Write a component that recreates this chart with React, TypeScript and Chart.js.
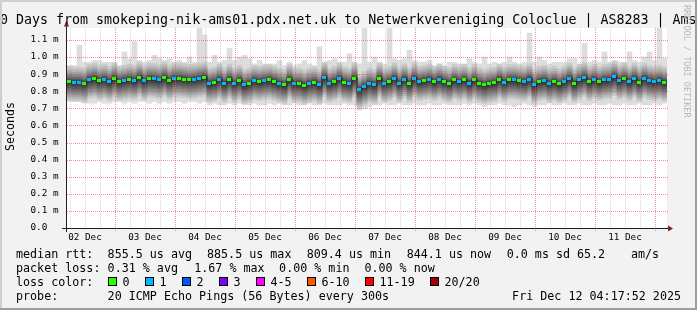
import React, { useEffect, useRef } from "react";
import { Chart, registerables } from "chart.js";

Chart.register(...registerables);

const W = 697;
const H = 310;
const MONO = "'DejaVu Sans Mono', monospace";

// ---- axis data ----
const titleText = "0 Days from smokeping-nik-ams01.pdx.net.uk to Netwerkvereniging Coloclue | AS8283 | Ams";
const dayLabels = ["02 Dec", "03 Dec", "04 Dec", "05 Dec", "06 Dec", "07 Dec", "08 Dec", "09 Dec", "10 Dec", "11 Dec"];
// hours since the graph start (Dec 2 04:48)
const firstNoonHour = 7.2;
const firstGridHour = 1.2;
const gridEveryHours = 6;
const totalHours = 240;
const stepHours = 2;
const yTickValues = [0, 0.1, 0.2, 0.3, 0.4, 0.5, 0.6, 0.7, 0.8, 0.9, 1.0, 1.1];
const yTickLabels = ["0.0  ", "0.1 m", "0.2 m", "0.3 m", "0.4 m", "0.5 m", "0.6 m", "0.7 m", "0.8 m", "0.9 m", "1.0 m", "1.1 m"];
const yMax = 1.17;

// ---- series data (ms), one value per 2 h step ----
const medianMs = [
  0.856, 0.852, 0.852, 0.846, 0.869, 0.875, 0.862, 0.869, 0.856, 0.875,
  0.856, 0.862, 0.869, 0.862, 0.881, 0.860, 0.875, 0.872, 0.866, 0.881,
  0.862, 0.875, 0.875, 0.871, 0.866, 0.869, 0.875, 0.881, 0.846, 0.852,
  0.869, 0.846, 0.869, 0.846, 0.862, 0.837, 0.846, 0.862, 0.856, 0.862,
  0.866, 0.856, 0.846, 0.837, 0.869, 0.846, 0.846, 0.834, 0.846, 0.852,
  0.837, 0.879, 0.846, 0.856, 0.875, 0.852, 0.846, 0.875, 0.809, 0.827,
  0.846, 0.837, 0.875, 0.846, 0.856, 0.875, 0.846, 0.871, 0.846, 0.875,
  0.856, 0.862, 0.869, 0.856, 0.869, 0.856, 0.846, 0.866, 0.856, 0.866,
  0.846, 0.866, 0.846, 0.837, 0.846, 0.850, 0.869, 0.852, 0.866, 0.866,
  0.860, 0.856, 0.871, 0.837, 0.856, 0.862, 0.846, 0.856, 0.843, 0.856,
  0.875, 0.846, 0.866, 0.880, 0.856, 0.869, 0.856, 0.866, 0.869, 0.885,
  0.862, 0.875, 0.856, 0.875, 0.852, 0.875, 0.862, 0.856, 0.862, 0.852,
];
const lossCount = [
  0, 1, 1, 0, 1, 0, 0, 1, 1, 0,
  0, 1, 0, 1, 0, 1, 0, 1, 1, 0,
  0, 1, 0, 0, 0, 1, 1, 0, 1, 0,
  1, 1, 0, 1, 0, 1, 0, 1, 0, 1,
  0, 0, 1, 0, 0, 1, 0, 0, 1, 0,
  1, 1, 1, 0, 1, 0, 1, 0, 1, 1,
  1, 1, 0, 1, 0, 1, 1, 1, 0, 1,
  1, 0, 1, 0, 1, 0, 0, 0, 1, 0,
  1, 0, 0, 0, 0, 0, 0, 1, 0, 1,
  0, 1, 1, 1, 0, 1, 1, 0, 0, 1,
  1, 0, 1, 1, 0, 1, 0, 1, 1, 1,
  1, 0, 1, 1, 0, 1, 1, 1, 1, 0,
];
const maxPingMs = [
  0.95, 0.95, 1.07, 0.97, 0.97, 0.98, 0.98, 0.97, 0.97, 0.97,
  0.95, 1.03, 0.99, 1.09, 0.98, 0.97, 0.98, 1.01, 0.99, 0.98,
  0.99, 0.97, 0.98, 0.97, 1.00, 0.97, 1.17, 1.13, 0.97, 1.01,
  0.97, 0.98, 1.05, 0.98, 1.00, 1.01, 0.99, 0.96, 0.98, 0.96,
  0.96, 0.96, 0.98, 0.95, 0.97, 0.95, 0.96, 0.98, 0.96, 0.95,
  1.06, 0.97, 0.98, 0.99, 0.97, 0.97, 1.02, 0.97, 0.96, 1.17,
  0.97, 1.00, 0.97, 0.96, 1.17, 0.99, 0.98, 0.99, 1.04, 0.98,
  0.97, 0.97, 0.98, 0.95, 0.96, 0.95, 0.97, 0.97, 0.96, 0.96,
  0.99, 0.97, 0.96, 1.00, 0.96, 0.97, 0.96, 0.97, 1.00, 0.97,
  0.96, 0.97, 1.14, 0.97, 1.00, 0.98, 0.96, 0.97, 0.97, 0.97,
  0.99, 0.99, 0.96, 1.08, 0.97, 0.98, 0.97, 1.03, 0.97, 0.98,
  0.97, 0.97, 1.03, 0.98, 0.97, 1.00, 1.03, 0.98, 1.17, 0.99,
];
const minPingMs = [
  0.74, 0.74, 0.74, 0.73, 0.73, 0.73, 0.74, 0.73, 0.73, 0.74,
  0.74, 0.73, 0.74, 0.73, 0.74, 0.74, 0.73, 0.74, 0.73, 0.74,
  0.73, 0.74, 0.74, 0.73, 0.74, 0.74, 0.73, 0.74, 0.72, 0.73,
  0.72, 0.72, 0.73, 0.72, 0.73, 0.72, 0.72, 0.73, 0.72, 0.72,
  0.73, 0.72, 0.73, 0.72, 0.72, 0.73, 0.72, 0.72, 0.73, 0.72,
  0.72, 0.73, 0.72, 0.72, 0.72, 0.73, 0.72, 0.72, 0.69, 0.70,
  0.71, 0.72, 0.72, 0.73, 0.72, 0.72, 0.73, 0.72, 0.72, 0.73,
  0.72, 0.72, 0.73, 0.72, 0.72, 0.73, 0.72, 0.72, 0.72, 0.73,
  0.72, 0.73, 0.72, 0.71, 0.72, 0.72, 0.73, 0.72, 0.72, 0.71,
  0.72, 0.73, 0.72, 0.71, 0.72, 0.72, 0.73, 0.72, 0.72, 0.73,
  0.72, 0.72, 0.73, 0.72, 0.72, 0.73, 0.72, 0.72, 0.73, 0.72,
  0.72, 0.73, 0.72, 0.72, 0.73, 0.72, 0.72, 0.73, 0.72, 0.73,
];
// typical sorted ping offsets (ping 2 .. ping 19 of 20) relative to the median
const pingOffsetsMs = [
  -0.110, -0.097, -0.085, -0.073, -0.061, -0.049, -0.036, -0.023, -0.010,
  0.003, 0.010, 0.018, 0.027, 0.037, 0.048, 0.060, 0.074, 0.090,
];

// ---- legend ----
const lossLabels = ["0", "1", "2", "3", "4-5", "6-10", "11-19", "20/20"];
const lossColors = ["#26ff00", "#00b8ff", "#0059ff", "#7e00ff", "#ff00ff", "#ff5500", "#ff0000", "#a10000"];
const lossUpper = [0, 1, 2, 3, 5, 10, 19, 20];
const medianRow = ["median rtt:", "855.5 us avg", "885.5 us max", "809.4 us min", "844.1 us now", "0.0 ms sd", "65.2", "am/s"];
const lossRow = ["packet loss:", "0.31 % avg", "1.67 % max", "0.00 % min", "0.00 % now"];
const probeRow = ["probe:", "20 ICMP Echo Pings (56 Bytes) every 300s"];
const dateText = "Fri Dec 12 04:17:52 2025";

const medianRowX = [16, 107.6, 207, 306.7, 406.7, 506.7, 577, 631];
const lossRowX = [16, 107.6, 194.2, 279.1, 364.4];
const lossBoxX = [108, 145, 182, 219, 256, 307, 365, 430];
const probeRowX = [16, 107.6];

function lossBin(n: number) {
  for (let i = 0; i < lossUpper.length; i++) if (n <= lossUpper[i]) return i;
  return lossUpper.length - 1;
}

const gridHours: number[] = [];
for (let h = firstGridHour; h < totalHours; h += gridEveryHours) gridHours.push(+h.toFixed(2));
const isMidnight = (h: number) => Math.abs(((h - firstNoonHour) % 24) - 12) < 0.01;
const noonIndex = (h: number) => {
  const k = Math.round((h - firstNoonHour) / 24);
  return Math.abs(h - (firstNoonHour + 24 * k)) < 0.01 ? k : -1;
};

export default function App() {
  const ref = useRef<HTMLCanvasElement>(null);

  useEffect(() => {
    const canvas = ref.current;
    if (!canvas) return;

    const dotImgs = lossColors.map((c) => {
      const cv = document.createElement("canvas");
      cv.width = 5;
      cv.height = 3;
      const g = cv.getContext("2d")!;
      g.fillStyle = c;
      g.fillRect(0, 0, 4, 3);
      return cv;
    });

    const xs = medianMs.map((_, i) => stepHours * i + stepHours / 2);
    const pings = medianMs.map((m, i) => [minPingMs[i], ...pingOffsetsMs.map((o) => m + o), maxPingMs[i]]);

    const smokeSets: any[] = [];
    for (let k = 0; k < 10; k++) {
      const g = Math.floor((190 / 10) * (10 - (k + 1))) + 50;
      smokeSets.push({
        type: "bar",
        data: xs.map((x, i) => ({ x, y: [pings[i][k], pings[i][19 - k]] })),
        backgroundColor: `rgb(${g},${g},${g})`,
        borderWidth: 0,
        barThickness: 5,
        grouped: false,
        order: 20 - k,
      });
    }

    const medianPts = xs.map((x, i) => ({ x, y: medianMs[i] }));

    const decor = {
      id: "decor",
      beforeDraw(chart: any) {
        const { ctx, chartArea: a } = chart;
        ctx.save();
        ctx.fillStyle = "#f2f2f2";
        ctx.fillRect(0, 0, W, H);
        ctx.fillStyle = "#ffffff";
        ctx.fillRect(a.left, a.top, a.right - a.left, a.bottom - a.top);
        ctx.restore();
      },
      afterDatasetsDraw(chart: any) {
        const { ctx, chartArea: a } = chart;
        const xs_ = chart.scales.x;
        const ys_ = chart.scales.y;
        ctx.save();
        ctx.lineWidth = 1;
        ctx.setLineDash([1, 1]);
        for (const h of gridHours) {
          if (isMidnight(h)) continue;
          const px = Math.round(xs_.getPixelForValue(h)) + 0.5;
          ctx.strokeStyle = "rgba(143,143,143,0.38)";
          ctx.beginPath();
          ctx.moveTo(px, a.top);
          ctx.lineTo(px, a.bottom);
          ctx.stroke();
        }
        const red = "rgba(222,79,79,0.6)";
        for (const h of gridHours) {
          if (!isMidnight(h)) continue;
          const px = Math.round(xs_.getPixelForValue(h)) + 0.5;
          ctx.strokeStyle = red;
          ctx.beginPath();
          ctx.moveTo(px, a.top);
          ctx.lineTo(px, a.bottom + 3);
          ctx.stroke();
        }
        for (const v of yTickValues) {
          if (v === 0) continue;
          const py = Math.round(ys_.getPixelForValue(v)) + 0.5;
          ctx.strokeStyle = red;
          ctx.beginPath();
          ctx.moveTo(a.left, py);
          ctx.lineTo(a.right + 2, py);
          ctx.stroke();
        }
        ctx.setLineDash([]);
        // axes
        ctx.strokeStyle = "#1f1f1f";
        const by = Math.round(ys_.getPixelForValue(0)) + 0.5;
        ctx.beginPath();
        ctx.moveTo(a.left - 5, by);
        ctx.lineTo(a.right + 1, by);
        ctx.stroke();
        const ax = a.left - 0.5;
        ctx.beginPath();
        ctx.moveTo(ax, a.bottom + 4);
        ctx.lineTo(ax, a.top - 2);
        ctx.stroke();
        // arrows
        ctx.fillStyle = "#801f1f";
        ctx.beginPath();
        ctx.moveTo(ax - 2.5, a.top - 1.5);
        ctx.lineTo(ax + 2.5, a.top - 1.5);
        ctx.lineTo(ax, a.top - 7.5);
        ctx.closePath();
        ctx.fill();
        ctx.beginPath();
        ctx.moveTo(a.right + 1, by - 3);
        ctx.lineTo(a.right + 1, by + 3);
        ctx.lineTo(a.right + 6, by);
        ctx.closePath();
        ctx.fill();
        ctx.restore();
      },
      afterDraw(chart: any) {
        const { ctx } = chart;
        ctx.save();
        ctx.fillStyle = "#000";
        ctx.textBaseline = "alphabetic";
        ctx.textAlign = "left";
        // title
        ctx.font = `13.3px ${MONO}`;
        ctx.fillText(titleText, 0, 24);
        // y title
        ctx.font = `11.6px ${MONO}`;
        ctx.save();
        ctx.translate(14, 126.5);
        ctx.rotate(-Math.PI / 2);
        ctx.textAlign = "center";
        ctx.fillText("Seconds", 0, 0);
        ctx.restore();
        // watermark
        ctx.save();
        ctx.font = `8.5px ${MONO}`;
        ctx.fillStyle = "#b8b8b8";
        ctx.translate(684, 5);
        ctx.rotate(Math.PI / 2);
        ctx.fillText("RRDTOOL / TOBI OETIKER", 0, 0);
        ctx.restore();
        // legend
        ctx.font = `11.7px ${MONO}`;
        ctx.fillStyle = "#000";
        medianRow.forEach((t, i) => ctx.fillText(t, medianRowX[i], 258));
        lossRow.forEach((t, i) => ctx.fillText(t, lossRowX[i], 272));
        ctx.fillText("loss color:", 16, 286);
        lossLabels.forEach((t, i) => {
          const bx = lossBoxX[i];
          ctx.fillStyle = lossColors[i];
          ctx.fillRect(bx, 277, 9, 9);
          ctx.strokeStyle = "#000";
          ctx.lineWidth = 1;
          ctx.strokeRect(bx + 0.5, 277.5, 8, 8);
          ctx.fillStyle = "#000";
          ctx.fillText(t, bx + 14.5, 286);
        });
        probeRow.forEach((t, i) => ctx.fillText(t, probeRowX[i], 300));
        ctx.textAlign = "right";
        ctx.fillText(dateText, 681, 300);
        // frame
        ctx.fillStyle = "#cfcfcf";
        ctx.fillRect(0, 0, W, 2);
        ctx.fillRect(0, 0, 2, H);
        ctx.fillStyle = "#9e9e9e";
        ctx.fillRect(0, H - 2, W, 2);
        ctx.fillRect(W - 2, 0, 2, H);
        ctx.restore();
      },
    };

    const chart = new Chart(canvas, {
      type: "bar",
      data: {
        datasets: [
          {
            type: "line",
            data: medianPts,
            showLine: false,
            pointStyle: (c: any) => dotImgs[lossBin(lossCount[c.dataIndex] ?? 0)],
            pointRadius: 2,
            order: 0,
          } as any,
          {
            type: "line",
            data: medianPts,
            stepped: "middle",
            borderColor: "#2a2a2a",
            borderWidth: 1,
            pointRadius: 0,
            fill: false,
            order: 1,
          } as any,
          ...smokeSets,
        ],
      },
      options: {
        responsive: false,
        maintainAspectRatio: false,
        animation: false,
        devicePixelRatio: 1,
        events: [],
        layout: { padding: { left: 0, top: 28, right: 30, bottom: 0 } },
        plugins: { legend: { display: false }, tooltip: { enabled: false }, title: { display: false } },
        scales: {
          x: {
            type: "linear",
            min: 0,
            max: totalHours,
            offset: false,
            grid: { display: false, drawTicks: false, offset: false },
            border: { display: false },
            ticks: {
              autoSkip: false,
              maxRotation: 0,
              minRotation: 0,
              padding: 4,
              color: "#000",
              font: { family: MONO, size: 9.3 },
              callback: (v: any) => {
                const k = noonIndex(Number(v));
                return k >= 0 && k < dayLabels.length ? dayLabels[k] : "";
              },
            },
            afterBuildTicks: (s: any) => {
              s.ticks = gridHours.map((h) => ({ value: h }));
            },
            afterFit: (s: any) => {
              s.height = 82;
            },
          },
          y: {
            type: "linear",
            min: 0,
            max: yMax,
            grid: { display: false, drawTicks: false },
            border: { display: false },
            ticks: {
              autoSkip: false,
              padding: 8.5,
              color: "#000",
              font: { family: MONO, size: 9.3 },
              callback: (_v: any, i: number) => yTickLabels[i],
            },
            afterBuildTicks: (s: any) => {
              s.ticks = yTickValues.map((v) => ({ value: v }));
            },
            afterFit: (s: any) => {
              s.width = 67;
            },
          },
        },
      } as any,
      plugins: [decor],
    });

    return () => chart.destroy();
  }, []);

  return (
    <div style={{ position: "fixed", left: 0, top: 0, width: W, height: H, background: "#f2f2f2" }}>
      <canvas ref={ref} width={W} height={H} style={{ display: "block", width: W, height: H }} />
    </div>
  );
}
